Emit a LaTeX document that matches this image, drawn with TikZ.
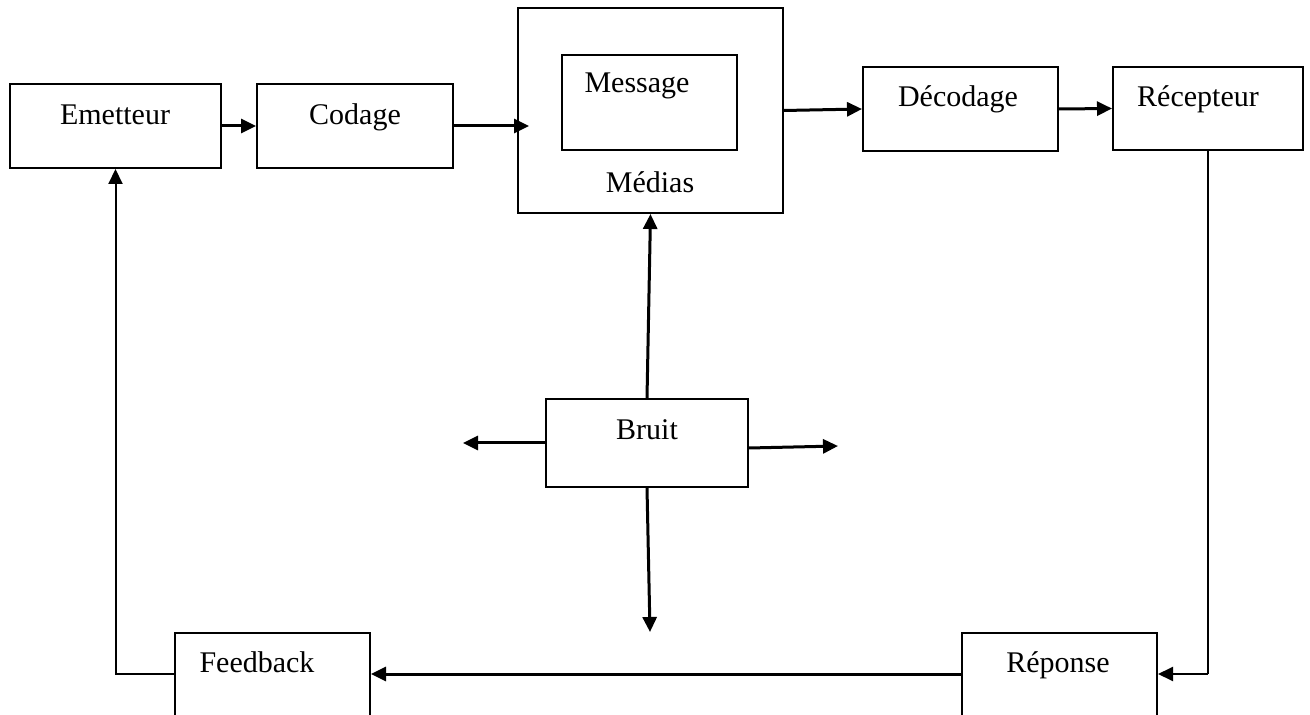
\documentclass[tikz,border=0pt]{standalone}
\usepackage{fontspec}
\setmainfont{Liberation Serif}
\usetikzlibrary{arrows.meta,fit}

\begin{document}
\begin{tikzpicture}[x=0.5pt,y=-0.5pt,
  box/.style={draw, line width=1pt, inner sep=0pt},
  lbl/.style={anchor=base, inner sep=0pt, font=\fontsize{15}{18}\selectfont},
  tip/.style={-{Triangle[length=7.5pt,width=7pt]}},
  flow/.style={line width=1.5pt, tip},
  wire/.style={line width=1pt}]
\useasboundingbox (0,0) rectangle (1310,715);
\clip (0,0) rectangle (1310,715);

% boxes
\node[box, fit={(10,84) (221,168)}]    (emetteur)  {};
\node[box, fit={(257,84) (453,168)}]   (codage)    {};
\node[box, fit={(518,8) (783,213)}]    (medias)    {};
\node[box, fit={(562,55) (737,150)}]   (message)   {};
\node[box, fit={(863,67) (1058,151)}]  (decodage)  {};
\node[box, fit={(1113,67) (1303,150)}] (recepteur) {};
\node[box, fit={(546,399) (748,487)}]  (bruit)     {};
% the two lower boxes run past the bottom edge
\node[box, fit={(175,633) (370,790)}]  (feedback)  {};
\node[box, fit={(962,633) (1157,790)}] (reponse)   {};

% labels
\node[lbl] (t-emetteur)  at (115,125)  {Emetteur};
\node[lbl] (t-codage)    at (355,125)  {Codage};
\node[lbl] (t-message)   at (637,93)   {Message};
\node[lbl] (t-medias)    at (650,193)  {Médias};
\node[lbl] (t-decodage)  at (958,107)  {Décodage};
\node[lbl] (t-recepteur) at (1198,107) {Récepteur};
\node[lbl] (t-bruit)     at (647,439)  {Bruit};
\node[lbl] (t-feedback)  at (257,672)  {Feedback};
\node[lbl] (t-reponse)   at (1058,672) {Réponse};

% connection points on the lower boxes
\coordinate (feedback-in)  at ([yshift=-21pt]feedback.north east);
\coordinate (feedback-out) at ([yshift=-21pt]feedback.north west);
\coordinate (reponse-in)   at ([yshift=-21pt]reponse.north east);
\coordinate (reponse-out)  at ([yshift=-21pt]reponse.north west);
% free ends of the noise arrows
\coordinate (noise-left)  at (463,443);
\coordinate (noise-right) at (838,446);
\coordinate (noise-down)  at (650,632);

% main chain
\draw[flow] (emetteur.east) -- (codage.west);
\draw[flow, shorten >=-6pt] (codage.east) -- (medias.west |- codage.east);
\draw[flow] (medias.east) -- (decodage.west);
\draw[flow] (decodage.east) -- (recepteur.west);

% return path
\draw[line width=0.8pt] (recepteur.south) -- (recepteur.south |- reponse-in);
\draw[wire, tip] (recepteur.south |- reponse-in) -- (reponse-in);
\draw[flow] (reponse-out) -- (feedback-in);
\draw[wire, tip] (feedback-out) -| (emetteur.south);

% noise
\draw[flow] (bruit.north) -- (medias.south);
\draw[flow] (bruit.west) -- (noise-left);
\draw[flow] ([yshift=-2.5pt]bruit.east) -- (noise-right);
\draw[flow] (bruit.south) -- (noise-down);
\end{tikzpicture}
\end{document}
